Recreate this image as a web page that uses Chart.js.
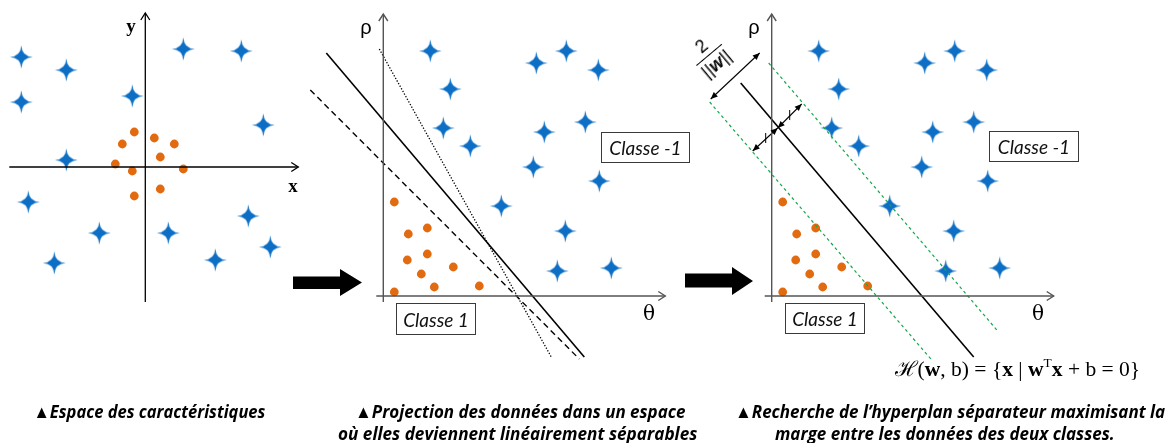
<!DOCTYPE html>
<html><head><meta charset="utf-8">
<script src="https://cdn.jsdelivr.net/npm/chart.js@4"></script>
<style>
html,body{margin:0;padding:0;background:#fff;}
#wrap{position:relative;width:1173px;height:443px;overflow:hidden;background:#fff;}
canvas{position:absolute;left:0;top:0;}
.t{position:absolute;white-space:nowrap;line-height:1;}
.c{transform:translate(-50%,-50%);}
.serifb{font-family:"Liberation Serif","DejaVu Serif",serif;font-weight:bold;font-size:19px;}
.greek{font-family:"Liberation Sans","DejaVu Sans",sans-serif;font-size:20px;}
.theta{font-family:"DejaVu Serif","Liberation Serif",serif;font-size:20px;}
.box{position:absolute;border:1.3px solid #3a3a3a;box-sizing:border-box;display:flex;align-items:center;justify-content:center;font-family:Lato,"Open Sans",sans-serif;font-style:italic;font-size:19px;color:#111;}
.cap{position:absolute;white-space:nowrap;font-family:"Open Sans",Lato,sans-serif;font-style:italic;font-weight:700;font-size:18px;line-height:1;color:#000;transform-origin:center center;}
.formula{font-family:"Liberation Serif","DejaVu Serif",serif;font-size:21px;color:#000;}
.formula sup{font-size:13px;vertical-align:9px;line-height:0;}
.blk{position:absolute;background:#000;}
</style></head><body>
<div id="wrap">
<canvas id="c1" width="1173" height="443"></canvas>
<canvas id="c2" width="1173" height="443"></canvas>
<canvas id="c3" width="1173" height="443"></canvas>

<div class="t c serifb" style="left:131px;top:25px;">y</div>
<div class="t c serifb" style="left:293px;top:185px;">x</div>

<div class="t c greek" style="left:366px;top:27px;">ρ</div>
<div class="t c theta" style="left:649px;top:313px;">θ</div>
<div class="t c greek" style="left:754px;top:27px;">ρ</div>
<div class="t c theta" style="left:1038px;top:313px;">θ</div>

<div class="box" style="left:601px;top:132px;width:89px;height:31px;">Classe -1</div>
<div class="box" style="left:396px;top:303px;width:80px;height:32px;">Classe 1</div>
<div class="box" style="left:989px;top:131px;width:90px;height:31px;">Classe -1</div>
<div class="box" style="left:785px;top:303px;width:80px;height:31px;">Classe 1</div>

<div class="t formula fit" data-w="245" data-cx="1017" data-cy="369">ℋ(<b>w</b>, b) = {<b>x</b> | <b>w</b><sup>T</sup><b>x</b> + b = 0}</div>

<div class="t" style="left:709px;top:55px;transform:translate(-50%,-50%) rotate(-40deg);font-family:'Liberation Sans','DejaVu Sans',sans-serif;font-size:18px;text-align:center;">
  <div style="border-bottom:1.3px solid #000;padding:0 3px 2px 3px;">2</div>
  <div style="padding-top:2px;">||<b><i>w</i></b>||</div>
</div>

<div class="blk" style="left:293px;top:269px;width:69px;height:27px;clip-path:polygon(0 7.5px,47px 7.5px,47px 0,69px 13.5px,47px 27px,47px 20px,0 20px);"></div>
<div class="blk" style="left:685px;top:267px;width:68px;height:28px;clip-path:polygon(0 6.5px,47px 6.5px,47px 0,68px 14px,47px 28px,47px 20.5px,0 20.5px);"></div>

<div class="cap fit" data-w="232" data-cx="149" data-cy="411">▲Espace des caractéristiques</div>
<div class="cap fit" data-w="330" data-cx="520" data-cy="411">▲Projection des données dans un espace</div>
<div class="cap fit" data-w="359" data-cx="517" data-cy="433">où elles deviennent linéairement séparables</div>
<div class="cap fit" data-w="430" data-cx="950" data-cy="411">▲Recherche de l’hyperplan séparateur maximisant la</div>
<div class="cap fit" data-w="340" data-cx="945" data-cy="433">marge entre les données des deux classes.</div>
</div>

<script>
// ---------- DATA (units: panel-relative, origin at axes intersection, y up) ----------
// Panel 1 : feature space
const starsSpace = [[-12.4,11.0],[-7.9,9.7],[-12.4,6.5],[-1.3,7.1],[3.8,11.8],[9.6,11.6],[11.8,4.2],[-7.9,0.7],[-11.7,-3.5],[-4.6,-6.6],[2.3,-6.6],[10.3,-4.9],[12.5,-8.0],[7.0,-9.3],[-9.1,-9.6]];
const dotsSpace  = [[-1.1,3.5],[0.9,2.9],[-2.3,2.3],[2.9,2.3],[1.5,1.0],[-3.0,0.3],[-1.3,-0.4],[3.8,-0.2],[1.5,-2.2],[-1.1,-2.9]];
// Panels 2 & 3 : projected space (θ, ρ)
const starsProj = [[4.7,24.5],[6.7,20.7],[6.0,16.8],[8.7,15.0],[15.3,23.3],[18.3,24.5],[21.5,22.6],[20.2,17.4],[16.1,16.4],[15.0,12.9],[21.6,11.5],[11.8,9.0],[18.2,6.5],[17.4,2.5],[22.8,2.8]];
const dotsProj  = [[1.1,9.4],[2.5,6.2],[4.4,6.8],[2.4,3.6],[4.4,4.2],[7.0,2.9],[3.8,2.2],[1.1,0.4],[5.1,0.9],[9.6,1.0]];
// Candidate separators (panel 2)
const sepSolid  = [[-5.7,24.3],[20.1,-6.1]];
const sepDashed = [[-7.3,20.6],[19.6,-6.3]];
const sepDotted = [[-0.4,24.7],[16.8,-6.1]];
// Max-margin hyperplane and margins (panel 3)
const hyperplane  = [[-3.1,21.3],[20.2,-6.1]];
const marginUpper = [[-0.3,23.3],[22.6,-3.5]];
const marginLower = [[-6.2,19.4],[16.0,-6.4]];
const marginWidth = [[-6.1,19.7],[-1.2,24.3]];
const halfMarginA = [[-1.9,14.5],[0.6,16.8]];
const halfMarginB = [[0.6,16.8],[3.0,19.2]];
const halfTickA   = [[-0.6,15.3],[-0.6,16.3]];
const halfTickB   = [[1.8,17.6],[1.8,18.6]];
// Axes extents
const axesSpaceX = [[-13.6,0],[15.3,0]];
const axesSpaceY = [[0,-13.5],[0,15.4]];
const axesProjX  = [[-0.7,0],[28.2,0]];
const axesProjY  = [[0,-0.6],[0,28.2]];

// ---------- helpers ----------
const pts = a => a.map(p => ({x:p[0], y:p[1]}));

function makeStar(){
  const s=25, c=s/2, R=11.5, r=0.6;
  const cv=document.createElement('canvas'); cv.width=s; cv.height=s;
  const g=cv.getContext('2d');
  g.fillStyle='#0C6EC4';
  g.beginPath();
  g.moveTo(c,c-R);
  g.quadraticCurveTo(c+r,c-r,c+R,c);
  g.quadraticCurveTo(c+r,c+r,c,c+R);
  g.quadraticCurveTo(c-r,c+r,c-R,c);
  g.quadraticCurveTo(c-r,c-r,c,c-R);
  g.closePath();
  g.fill();
  return cv;
}
const starImg = makeStar();

const arrowPlugin = {
  id:'arrowHeads',
  afterDatasetsDraw(chart){
    const ctx = chart.ctx;
    chart.data.datasets.forEach((ds,i)=>{
      if(!ds.arrow) return;
      const p = chart.getDatasetMeta(i).data;
      const n = p.length;
      const draw = (tip, from) => {
        const a = Math.atan2(tip.y-from.y, tip.x-from.x);
        const L = ds.arrow.size, W = ds.arrow.half;
        ctx.save();
        ctx.translate(tip.x, tip.y); ctx.rotate(a);
        ctx.beginPath();
        ctx.moveTo(-L,-W); ctx.lineTo(0,0); ctx.lineTo(-L,W);
        if(ds.arrow.filled){ ctx.closePath(); ctx.fillStyle = ds.borderColor; ctx.fill(); }
        else { ctx.strokeStyle = ds.borderColor; ctx.lineWidth = ds.borderWidth; ctx.stroke(); }
        ctx.restore();
      };
      if(ds.arrow.end) draw(p[n-1], p[n-2]);
      if(ds.arrow.start) draw(p[0], p[1]);
    });
  }
};

function line(data, color, width, dash, arrow){
  return {type:'scatter', data:pts(data), showLine:true, borderColor:color, borderWidth:width,
          borderDash:dash||[], pointRadius:0, fill:false, tension:0, clip:false, arrow:arrow||null};
}
function starsDs(data){
  return {data:pts(data), pointStyle:starImg, pointRadius:12, showLine:false, clip:false};
}
function dotsDs(data){
  return {data:pts(data), pointStyle:'circle', pointRadius:4.4, backgroundColor:'#E26B10', borderWidth:0, showLine:false, clip:false};
}

function makeChart(id, origin, datasets){
  const W=1173, H=443, U=10;
  return new Chart(document.getElementById(id), {
    type:'scatter',
    data:{datasets},
    options:{
      responsive:false, animation:false, events:[],
      layout:{padding:0, autoPadding:false},
      plugins:{legend:{display:false}, tooltip:{enabled:false}},
      scales:{
        x:{type:'linear', display:false, min:-origin[0]/U, max:(W-origin[0])/U},
        y:{type:'linear', display:false, min:-(H-origin[1])/U, max:origin[1]/U}
      }
    },
    plugins:[arrowPlugin]
  });
}

const axisOpen = {end:true, size:7, half:4.5, filled:false};

// Panel 1
makeChart('c1', [145.3,167], [
  line(axesSpaceX, '#000', 1.3, [], axisOpen),
  line(axesSpaceY, '#000', 1.3, [], axisOpen),
  starsDs(starsSpace),
  dotsDs(dotsSpace)
]);

// Panel 2
makeChart('c2', [383.3,296], [
  line(axesProjX, '#555', 1.4, [], axisOpen),
  line(axesProjY, '#555', 1.4, [], axisOpen),
  line(sepSolid, '#000', 1.6),
  line(sepDashed, '#000', 1.4, [6,4]),
  line(sepDotted, '#000', 1.3, [1.3,1.7]),
  starsDs(starsProj),
  dotsDs(dotsProj)
]);

// Panel 3
const headF = {start:true, end:true, size:7, half:3, filled:true};
makeChart('c3', [771.7,296], [
  line(axesProjX, '#555', 1.4, [], axisOpen),
  line(axesProjY, '#555', 1.4, [], axisOpen),
  line(marginUpper, '#12A84A', 1.2, [3,3]),
  line(marginLower, '#12A84A', 1.2, [3,3]),
  line(hyperplane, '#000', 1.6),
  line(marginWidth, '#000', 1.1, [], headF),
  line(halfMarginA, '#000', 1.1, [], headF),
  line(halfMarginB, '#000', 1.1, [], headF),
  line(halfTickA, '#000', 1.0),
  line(halfTickB, '#000', 1.0),
  starsDs(starsProj),
  dotsDs(dotsProj)
]);

// fit text widths
document.querySelectorAll('.fit').forEach(el=>{
  const w = el.offsetWidth, h = el.offsetHeight;
  const k = (+el.dataset.w)/w;
  el.style.left = (+el.dataset.cx - w/2)+'px';
  el.style.top = (+el.dataset.cy - h/2)+'px';
  el.style.transform = 'scaleX('+k+')';
});
</script>
</body></html>
